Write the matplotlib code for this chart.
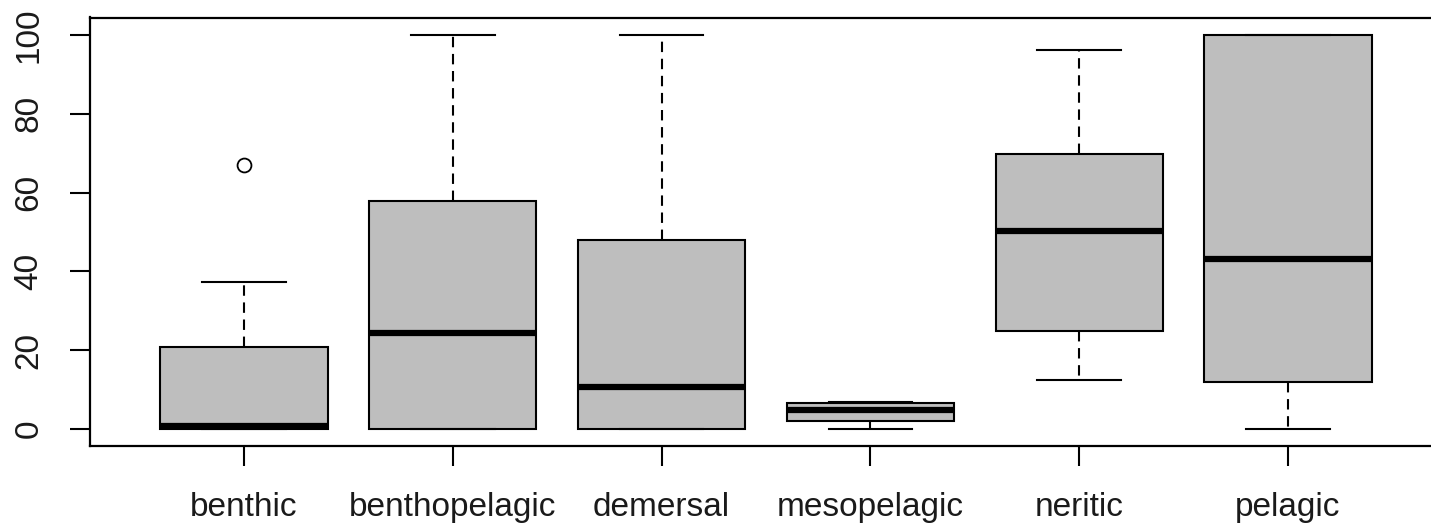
import matplotlib
matplotlib.use("Agg")
import matplotlib.pyplot as plt

# boxplot summary per habitat
labels = ["benthic", "benthopelagic", "demersal", "mesopelagic", "neritic", "pelagic"]
whislo = [0, 0, 0, 0, 12.4, 0]
q1 = [0, 0, 0, 2.1, 24.8, 11.9]
med = [0.9, 24.3, 10.7, 4.9, 50.3, 43.2]
q3 = [20.8, 57.8, 48.0, 6.5, 69.8, 100]
whishi = [37.4, 100, 100, 6.9, 96.2, 100]
fliers = [[67], [], [], [], [], []]

plt.rcParams['font.family'] = ['Liberation Sans', 'DejaVu Sans']

W, H = 1431, 529
fig = plt.figure(figsize=(W / 100, H / 100), dpi=100)
# axes box in pixels (right edge runs off the image like the reference)
left, right, top, bottom = 89.5, 1442.5, 17.5, 446
ax = fig.add_axes([left / W, 1 - bottom / H, (right - left) / W, (bottom - top) / H])

stats = []
for i in range(len(labels)):
    stats.append(dict(label=labels[i], whislo=whislo[i], q1=q1[i], med=med[i],
                      q3=q3[i], whishi=whishi[i], fliers=fliers[i]))

ax.bxp(stats, positions=range(1, len(labels) + 1), widths=0.8,
       patch_artist=True, showfliers=True,
       boxprops=dict(facecolor="#bebebe", edgecolor="black", linewidth=1.5),
       medianprops=dict(color="black", linewidth=4.5, solid_capstyle="butt"),
       whiskerprops=dict(color="black", linewidth=1.5, linestyle=(0, (5, 3.2))),
       capprops=dict(color="black", linewidth=1.5),
       capwidths=0.4,
       flierprops=dict(marker="o", markersize=10, markerfacecolor="none",
                       markeredgecolor="black", markeredgewidth=1.3))

ax.set_xlim(0.26, 6.74)
ax.set_ylim(-4.3, 104.4)
ax.set_yticks([0, 20, 40, 60, 80, 100])
ax.set_yticklabels(["0", "20", "40", "60", "80", "100"], rotation=90, va="center")
ax.tick_params(axis="both", length=14.4, width=1.5, labelsize=24, direction="out")
ax.tick_params(axis="y", pad=18)
ax.tick_params(axis="x", pad=19)
for s in ax.spines.values():
    s.set_linewidth(1.6)
ax.spines["right"].set_visible(False)
for t in ax.get_yticklabels() + ax.get_xticklabels():
    t.set_color("#1a1a1a")

fig.savefig("out.png", dpi=100)
